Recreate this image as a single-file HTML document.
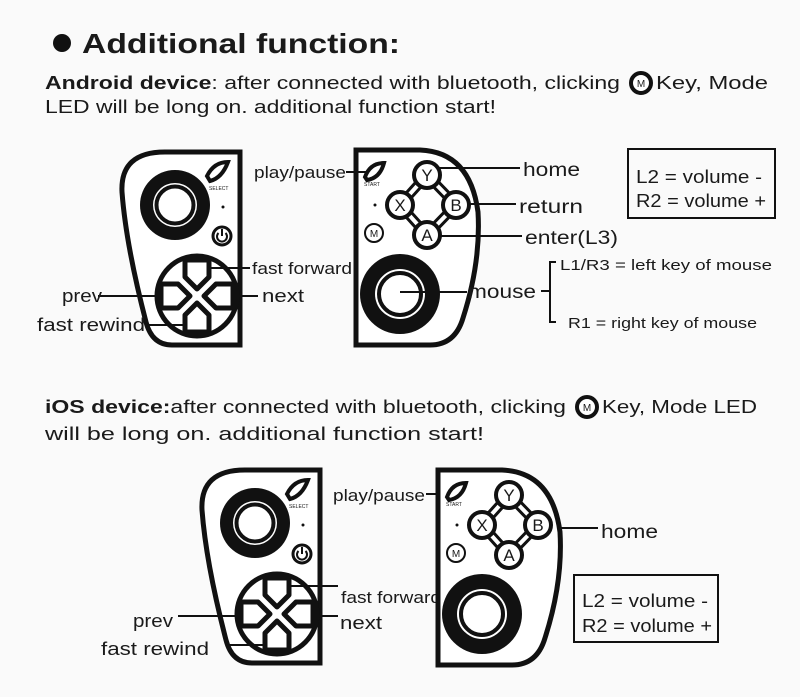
<!DOCTYPE html>
<html><head><meta charset="utf-8"><style>
html,body{margin:0;padding:0;background:#fafafa;}
svg{display:block;}
text{font-family:"Liberation Sans",sans-serif;fill:#1a1a1a;}
</style></head><body>
<svg width="800" height="697" viewBox="0 0 800 697" xmlns="http://www.w3.org/2000/svg">
<defs>
<g id="lc">
  <path d="M240 152 L165 152 Q120 152 122 192 Q126 245 146 322 Q152 345 172 345 L240 345 Z" fill="#fff" stroke="#111" stroke-width="5"/>
  <circle cx="175" cy="205" r="35" fill="#111"/>
  <circle cx="175" cy="205" r="22" fill="#fff"/>
  <circle cx="175" cy="205" r="18.5" fill="none" stroke="#111" stroke-width="4"/>
  <path d="M207 176 Q214 162 228 162 Q222 178 210 181 Z" fill="#fff" stroke="#111" stroke-width="4"/>
  <text x="209" y="190" font-size="5" fill="#444">SELECT</text>
  <circle cx="223" cy="207" r="1.5" fill="#111"/>
  <circle cx="222" cy="236" r="9" fill="#fff" stroke="#111" stroke-width="3"/>
  <path d="M218.5 233 A5 5 0 1 0 225.5 233" fill="none" stroke="#111" stroke-width="2"/>
  <line x1="222" y1="229" x2="222" y2="236" stroke="#111" stroke-width="2"/>
  <circle cx="197" cy="296" r="40" fill="#fff" stroke="#111" stroke-width="5"/>
  <g fill="#fff" stroke="#111" stroke-width="5" stroke-linejoin="round">
    <polygon points="185,260 209,260 209,277 197,289 185,277"/>
    <polygon points="185,332 209,332 209,315 197,303 185,315"/>
    <polygon points="161,284 161,308 178,308 190,296 178,284"/>
    <polygon points="233,284 233,308 216,308 204,296 216,284"/>
  </g>
</g>
<g id="rc">
  <path d="M356 150 L420 150 Q470 152 478 212 Q481 262 463 318 Q455 345 430 345 L356 345 Z" fill="#fff" stroke="#111" stroke-width="5"/>
  <path d="M427 175 L456 205 L427 235 L400 205 Z" fill="none" stroke="#111" stroke-width="10"/>
  <path d="M427 175 L456 205 L427 235 L400 205 Z" fill="none" stroke="#fff" stroke-width="4"/>
  <g fill="#fff" stroke="#111" stroke-width="4">
    <circle cx="427" cy="175" r="13"/><circle cx="400" cy="205" r="13"/>
    <circle cx="456" cy="205" r="13"/><circle cx="427" cy="235" r="13"/>
  </g>
  <g font-size="17" text-anchor="middle">
    <text x="427" y="181">Y</text><text x="400" y="211">X</text>
    <text x="456" y="211">B</text><text x="427" y="241">A</text>
  </g>
  <path d="M365 177 Q370 163 384 163 Q380 178 367 180 Z" fill="#fff" stroke="#111" stroke-width="4"/>
  <text x="364" y="186" font-size="5" fill="#444">START</text>
  <circle cx="375" cy="205" r="1.5" fill="#111"/>
  <circle cx="374" cy="233" r="9" fill="#fff" stroke="#111" stroke-width="2"/>
  <text x="374" y="237" font-size="10" text-anchor="middle">M</text>
  <circle cx="400" cy="294" r="40" fill="#111"/>
  <circle cx="400" cy="294" r="25" fill="#fff"/>
  <circle cx="400" cy="294" r="21" fill="none" stroke="#111" stroke-width="4"/>
</g>
</defs>

<circle cx="62" cy="43" r="9" fill="#111"/>
<text x="82" y="53" font-size="28" font-weight="bold" textLength="318" lengthAdjust="spacingAndGlyphs">Additional function:</text>
<text x="45" y="89" font-size="18" textLength="575" lengthAdjust="spacingAndGlyphs"><tspan font-weight="bold">Android device</tspan>: after connected with bluetooth, clicking</text>
<circle cx="641" cy="83" r="10" fill="#fff" stroke="#111" stroke-width="4"/>
<text x="641" y="87" font-size="10" text-anchor="middle">M</text>
<text x="656" y="89" font-size="18" textLength="112" lengthAdjust="spacingAndGlyphs">Key, Mode</text>
<text x="45" y="113" font-size="18" textLength="451" lengthAdjust="spacingAndGlyphs">LED will be long on. additional function start!</text>

<use href="#lc"/>
<use href="#rc"/>
<g stroke="#111" stroke-width="2" fill="none">
  <line x1="346" y1="172" x2="366" y2="172"/>
  <line x1="438" y1="168" x2="520" y2="168"/>
  <line x1="470" y1="204" x2="516" y2="204"/>
  <line x1="438" y1="236" x2="522" y2="236"/>
  <line x1="400" y1="292" x2="467" y2="292"/>
  <path d="M541 291 L550 291 M556 262 L550 262 L550 322 L556 322"/>
  <rect x="628" y="149" width="147" height="69"/>
  <line x1="208" y1="268" x2="250" y2="268"/>
  <line x1="98" y1="296" x2="160" y2="296"/>
  <line x1="234" y1="296" x2="258" y2="296"/>
  <line x1="146" y1="325" x2="187" y2="325"/>
</g>
<g font-size="17">
<text x="254" y="178" textLength="92" lengthAdjust="spacingAndGlyphs">play/pause</text>
<text x="523" y="176" font-size="19" textLength="57" lengthAdjust="spacingAndGlyphs">home</text>
<text x="519" y="213" font-size="19" textLength="64" lengthAdjust="spacingAndGlyphs">return</text>
<text x="525" y="244" font-size="19" textLength="93" lengthAdjust="spacingAndGlyphs">enter(L3)</text>
<text x="468" y="298" font-size="19" textLength="68" lengthAdjust="spacingAndGlyphs">mouse</text>
<text x="560" y="270" font-size="15" textLength="212" lengthAdjust="spacingAndGlyphs">L1/R3 = left key of mouse</text>
<text x="568" y="328" font-size="15" textLength="189" lengthAdjust="spacingAndGlyphs">R1 = right key of mouse</text>
<text x="636" y="183" font-size="18" textLength="126" lengthAdjust="spacingAndGlyphs">L2 = volume -</text>
<text x="636" y="207" font-size="18" textLength="130" lengthAdjust="spacingAndGlyphs">R2 = volume +</text>
<text x="252" y="274" textLength="100" lengthAdjust="spacingAndGlyphs">fast forward</text>
<text x="62" y="302" font-size="18" textLength="40" lengthAdjust="spacingAndGlyphs">prev</text>
<text x="262" y="302" font-size="18" textLength="42" lengthAdjust="spacingAndGlyphs">next</text>
<text x="37" y="331" font-size="18" textLength="108" lengthAdjust="spacingAndGlyphs">fast rewind</text>
</g>

<text x="45" y="413" font-size="18" textLength="521" lengthAdjust="spacingAndGlyphs"><tspan font-weight="bold">iOS device:</tspan>after connected with bluetooth, clicking</text>
<circle cx="587" cy="407" r="10" fill="#fff" stroke="#111" stroke-width="4"/>
<text x="587" y="411" font-size="10" text-anchor="middle">M</text>
<text x="602" y="413" font-size="18" textLength="155" lengthAdjust="spacingAndGlyphs">Key, Mode LED</text>
<text x="45" y="440" font-size="18" textLength="439" lengthAdjust="spacingAndGlyphs">will be long on. additional function start!</text>

<g transform="translate(80,318)"><use href="#lc"/></g>
<g stroke="#111" stroke-width="2" fill="none">
  <line x1="288" y1="586" x2="338" y2="586"/>
  <line x1="178" y1="616" x2="240" y2="616"/>
  <line x1="314" y1="616" x2="338" y2="616"/>
  <line x1="226" y1="645" x2="267" y2="645"/>
  <line x1="426" y1="494" x2="448" y2="494"/>
  <line x1="550" y1="528" x2="598" y2="528"/>
  <rect x="574" y="575" width="144" height="67"/>
</g>
<g font-size="17">
<text x="341" y="603" textLength="100" lengthAdjust="spacingAndGlyphs">fast forward</text>
</g>
<g transform="translate(82,320)"><use href="#rc"/></g>
<g font-size="17">
<text x="333" y="501" textLength="92" lengthAdjust="spacingAndGlyphs">play/pause</text>
<text x="601" y="538" font-size="19" textLength="57" lengthAdjust="spacingAndGlyphs">home</text>
<text x="582" y="607" font-size="18" textLength="126" lengthAdjust="spacingAndGlyphs">L2 = volume -</text>
<text x="582" y="632" font-size="18" textLength="130" lengthAdjust="spacingAndGlyphs">R2 = volume +</text>
<text x="133" y="627" font-size="18" textLength="40" lengthAdjust="spacingAndGlyphs">prev</text>
<text x="340" y="629" font-size="18" textLength="42" lengthAdjust="spacingAndGlyphs">next</text>
<text x="101" y="655" font-size="18" textLength="108" lengthAdjust="spacingAndGlyphs">fast rewind</text>
</g>
</svg>
</body></html>
